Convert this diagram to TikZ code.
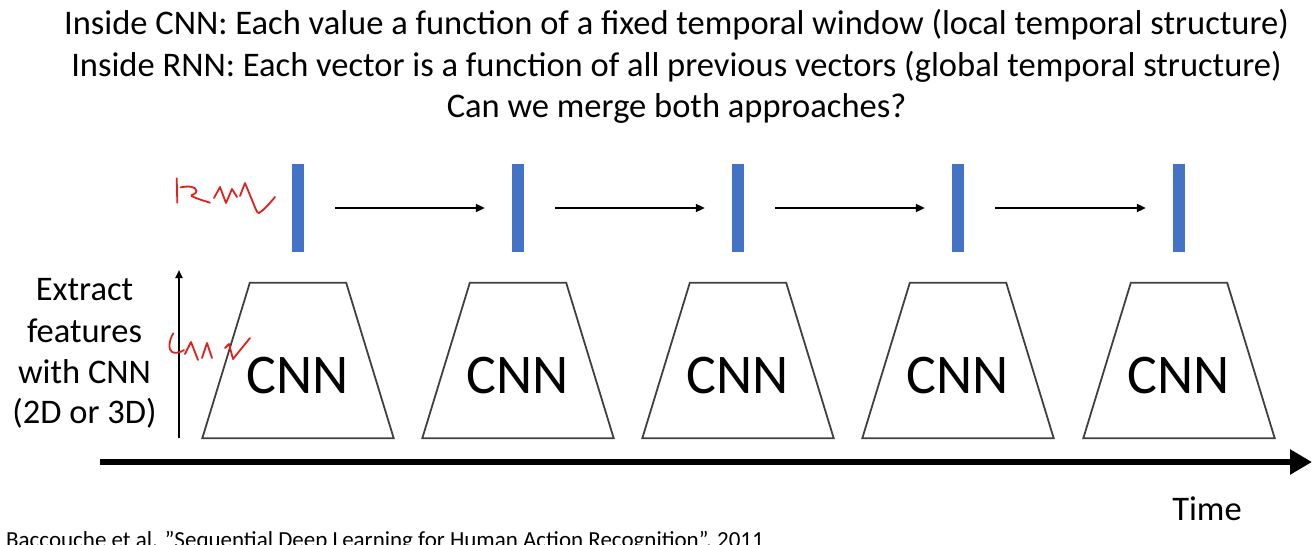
\documentclass[tikz,border=0pt]{standalone}
\usepackage{fontspec}
\setmainfont{Carlito}
\usetikzlibrary{arrows.meta}
\definecolor{barblue}{HTML}{4472C4}
\definecolor{trapgray}{HTML}{404040}
\definecolor{inkred}{HTML}{E0201C}
\tikzset{
  rnnbar/.style={fill=barblue,draw=none,minimum width=12pt,minimum height=88pt,inner sep=0pt},
  cnnframe/.style={draw=none,minimum width=191pt,minimum height=155pt,inner sep=0pt},
  trapline/.style={draw=trapgray,line width=1.8pt,line join=miter},
  cnnlabel/.style={font=\fontsize{56}{62}\selectfont,inner sep=0pt},
  steparrow/.style={line width=2pt,-{Triangle[length=9pt,width=8pt]},shorten <=31pt,shorten >=27pt},
  titletext/.style={font=\fontsize{34.5}{40}\selectfont,inner sep=0pt,anchor=base},
  sidetext/.style={font=\fontsize{34.5}{40}\selectfont,inner sep=0pt,anchor=base},
  scribble/.style={draw=inkred,line width=1.8pt,line cap=round,line join=round},
}
\begin{document}
\begin{tikzpicture}[x=1pt,y=-1pt]
\useasboundingbox (0,0) rectangle (1316,545);
% title
\node[titletext] (t1) at (676.5,35) {Inside CNN: Each value a function of a fixed temporal window (local temporal structure)};
\node[titletext] (t2) at (676.5,77) {Inside RNN: Each vector is a function of all previous vectors (global temporal structure)};
\node[titletext] (t3) at (676.5,118) {Can we merge both approaches?};
% bars and CNNs
\foreach \i/\x in {1/298,2/518,3/738,4/958,5/1179}{
  \node[rnnbar] (b\i) at (\x,208) {};
  \node[cnnframe] (c\i) at (\x,360.5) {};
  \draw[trapline] (c\i.south west) -- (c\i.south east) -- ([xshift=-47.5pt]c\i.north east) -- ([xshift=47.5pt]c\i.north west) -- cycle;
  \node[cnnlabel] (l\i) at (\x,376) {CNN};
}
\foreach \a/\b in {1/2,2/3,3/4,4/5}{
  \draw[steparrow] (b\a.east) -- (b\b.west);
}
% vertical axis
\coordinate (vb) at (179,438);
\coordinate (vt) at (179,270);
\draw[line width=2pt,-{Triangle[length=8pt,width=7pt]}] (vb) -- (vt);
% side text
\node[sidetext] (s1) at (84.5,300) {Extract};
\node[sidetext] (s2) at (84.5,342) {features};
\node[sidetext] (s3) at (84.5,383) {with CNN};
\node[sidetext] (s4) at (84.5,423) {(2D or 3D)};
% time axis
\coordinate (ta) at (100,462);
\coordinate (tb) at (1312,462);
\draw[line width=6pt,-{Triangle[length=22pt,width=24pt]}] (ta) -- (tb);
\node[titletext] (time) at (1207,520) {Time};
% citation
\node[font=\fontsize{23}{27}\selectfont,inner sep=0pt,anchor=base west] (cite) at (6,547) {Baccouche et al. \symbol{34}Sequential Deep Learning for Human Action Recognition”, 2011};
% red handwriting RNN
\draw[scribble] (176.7,178.3) -- (177.3,202.7);
\draw[scribble] (180.7,187.3) .. controls (188,186) and (196,186) .. (196.5,191) .. controls (197,194) and (190,195) .. (191.5,196) .. controls (197,199) and (205,201) .. (210,202.7);
\draw[scribble] (214,198) -- (220,187) -- (226,203) -- (232,189) -- (237,197);
\draw[scribble] (240,196) -- (245,183) -- (252,200) .. controls (255,207) and (257,214) .. (259,213) .. controls (264,210) and (270,203) .. (275,197);
% red handwriting CNN
\draw[scribble] (173.3,333.3) .. controls (169,340) and (168,350) .. (172,352) .. controls (176,354) and (181,352) .. (184,350);
\draw[scribble] (185,354) -- (191,342) -- (198,360);
\draw[scribble] (202,358) -- (207,343) -- (212,358);
\draw[scribble] (225,348) -- (229,344) -- (233,359) -- (250,338);
\end{tikzpicture}
\end{document}
